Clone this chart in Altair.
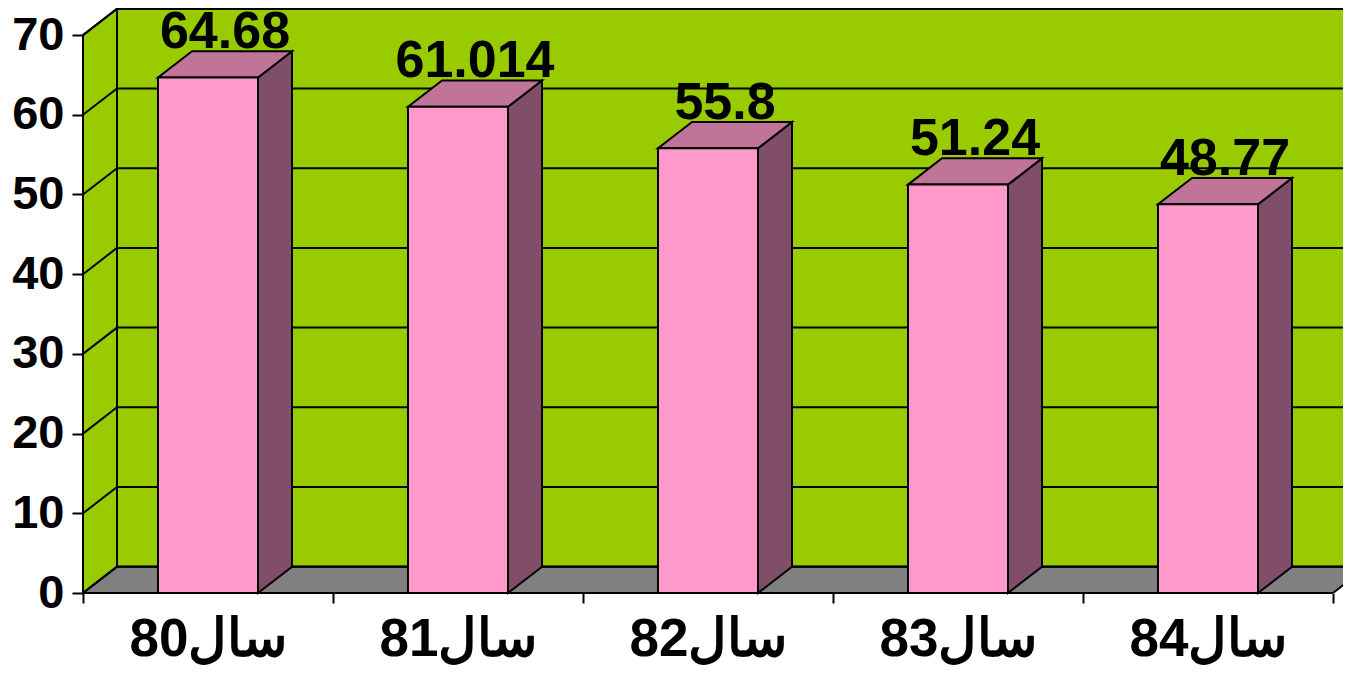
import altair as alt
import pandas as pd

# ---- data ----
categories = ["سال80", "سال81", "سال82", "سال83", "سال84"]
values = [64.68, 61.014, 55.8, 51.24, 48.77]
value_labels = ["64.68", "61.014", "55.8", "51.24", "48.77"]
y_ticks = [0, 10, 20, 30, 40, 50, 60, 70]

# ---- geometry / style ----
N = len(categories)
DX = 0.136        # 3-D depth along x (category units)
DY = 3.3          # 3-D depth along y (value units)
BAR_L, BAR_R = 0.3, 0.7
W, H = 1260, 585
PX_PER_CAT = 250
XMAX = W / PX_PER_CAT
YMAX = 73.4

FONT = "Liberation Sans"
WALL = "#99CC00"
FLOOR = "#808080"
FRONT = "#FF99CC"
TOP = "#C07498"
SIDE = "#804E68"
SW = 2

label_expr = "[" + ",".join("'" + c + "'" for c in categories) + ",''][datum.value]"

xs = alt.Scale(domain=[0, XMAX], nice=False, zero=False)
ys = alt.Scale(domain=[0, YMAX], nice=False, zero=False)
x_axis = alt.Axis(values=list(range(N + 1)), labelExpr=label_expr,
                  labelOffset=0.5 * PX_PER_CAT, tickSize=10, tickWidth=2,
                  tickColor="black", domain=False, grid=False, labelFont=FONT,
                  labelFontSize=53, labelFontWeight="bold", labelColor="black",
                  labelPadding=10, labelFlush=False, labelOverlap=False,
                  labelBound=False, title=None)
y_axis = alt.Axis(values=y_ticks, tickSize=11, tickWidth=2, tickColor="black",
                  domain=False, grid=False, labelFont=FONT, labelFontSize=47,
                  labelFontWeight="bold", labelColor="black", labelPadding=8,
                  title=None)


def X(f):
    return alt.X(f, type="quantitative", scale=xs, axis=x_axis)


def Y(f):
    return alt.Y(f, type="quantitative", scale=ys, axis=y_axis)


top_tick = y_ticks[-1]

# back wall
wall_df = pd.DataFrame({"x": [DX], "x2": [XMAX + 1], "y": [DY], "y2": [top_tick + DY]})
wall = alt.Chart(wall_df).mark_rect(fill=WALL, stroke="black", strokeWidth=SW, clip=True).encode(
    x=X("x"), x2="x2", y=Y("y"), y2="y2")

# left side wall
lw_df = pd.DataFrame({"x": [0, DX], "y": [top_tick, top_tick + DY], "y2": [0, DY]})
left_wall = alt.Chart(lw_df).mark_area(orient="vertical", fill=WALL, stroke="black",
                                       strokeWidth=SW).encode(x=X("x"), y=Y("y"), y2="y2")

# floor
fl_df = pd.DataFrame({"y": [0, DY], "x": [0, DX], "x2": [N, N + DX]})
floor = alt.Chart(fl_df).mark_area(orient="horizontal", fill=FLOOR, stroke="black",
                                   strokeWidth=SW, clip=True).encode(y=Y("y"), x=X("x"), x2="x2")

# gridlines on back wall
bg_df = pd.DataFrame({"t": y_ticks})
back_grid = alt.Chart(bg_df).transform_calculate(
    x=str(DX), x2=str(XMAX + 1), y="datum.t + " + str(DY)
).mark_rule(color="black", strokeWidth=SW, clip=True).encode(x=X("x:Q"), x2="x2:Q", y=Y("y:Q"))

# diagonal gridlines on left wall
side_grid = alt.Chart(bg_df).transform_calculate(
    x="0", x2=str(DX), y2="datum.t + " + str(DY)
).mark_rule(color="black", strokeWidth=SW).encode(x=X("x:Q"), x2="x2:Q", y=Y("t:Q"), y2="y2:Q")

# front axis lines
fv_df = pd.DataFrame({"x": [0], "y": [0], "y2": [top_tick]})
front_v = alt.Chart(fv_df).mark_rule(color="black", strokeWidth=SW).encode(x=X("x"), y=Y("y"), y2="y2")
fh_df = pd.DataFrame({"x": [0], "x2": [N], "y": [0]})
front_h = alt.Chart(fh_df).mark_rule(color="black", strokeWidth=SW).encode(x=X("x"), x2="x2", y=Y("y"))

# bars
idx = list(range(N))
bars_df = pd.DataFrame({"i": idx, "cat": categories, "v": values, "label": value_labels})

side_rows, top_rows = [], []
for i, c, v in zip(idx, categories, values):
    side_rows.append({"cat": c, "x": i + BAR_R, "y": v, "y2": 0})
    side_rows.append({"cat": c, "x": i + BAR_R + DX, "y": v + DY, "y2": DY})
    top_rows.append({"cat": c, "y": v, "x": i + BAR_L, "x2": i + BAR_R})
    top_rows.append({"cat": c, "y": v + DY, "x": i + BAR_L + DX, "x2": i + BAR_R + DX})
side_df = pd.DataFrame(side_rows)
top_df = pd.DataFrame(top_rows)

bar_side = alt.Chart(side_df).mark_area(orient="vertical", fill=SIDE, stroke="black",
                                        strokeWidth=SW).encode(
    x=X("x"), y=Y("y"), y2="y2", detail="cat:N")
bar_top = alt.Chart(top_df).mark_area(orient="horizontal", fill=TOP, stroke="black",
                                      strokeWidth=SW).encode(
    y=Y("y"), x=X("x"), x2="x2", detail="cat:N")
bar_front = alt.Chart(bars_df).transform_calculate(
    xl="datum.i + " + str(BAR_L), xr="datum.i + " + str(BAR_R), y0="0"
).mark_rect(fill=FRONT, stroke="black", strokeWidth=SW).encode(
    x=X("xl:Q"), x2="xr:Q", y=Y("y0:Q"), y2="v:Q")

value_text = alt.Chart(bars_df).transform_calculate(
    xc="datum.i + 0.5 + " + str(DX / 2), yt="datum.v + " + str(DY)
).mark_text(baseline="alphabetic", dy=-3, font=FONT, fontSize=52, fontWeight="bold",
            color="black").encode(x=X("xc:Q"), y=Y("yt:Q"), text="label:N")

chart = alt.layer(
    wall, left_wall, floor, back_grid, side_grid, front_v, front_h,
    bar_side, bar_top, bar_front, value_text
).properties(
    width=W, height=H,
    padding={"left": 75, "top": 0, "right": 0, "bottom": 74},
    autosize="none",
    background="white",
).configure_view(stroke=None)

chart.save("out.html", embed_options={"renderer": "svg", "actions": False})
